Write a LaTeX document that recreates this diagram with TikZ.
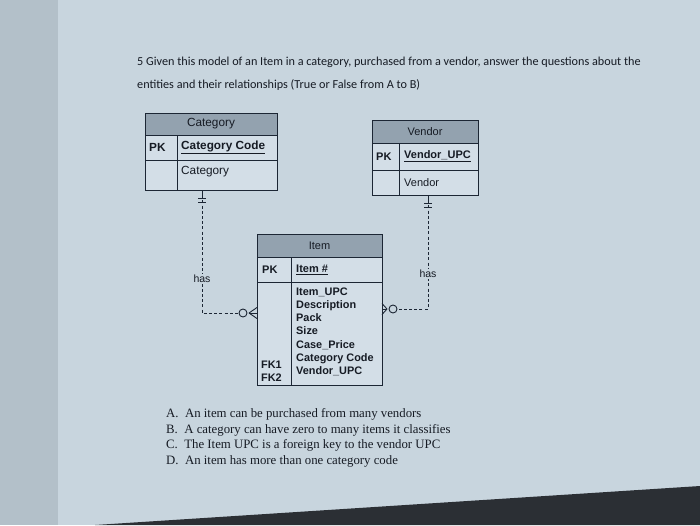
\documentclass[tikz,border=0pt]{standalone}
\usepackage{fontspec}
\setmainfont{Liberation Serif}
\setsansfont{Liberation Sans}
\newfontfamily\titlefont{Carlito}
\definecolor{bgc}{HTML}{C8D5DE}
\definecolor{edgec}{HTML}{B3C0C9}
\definecolor{bezel}{HTML}{2B2F34}
\definecolor{hdrc}{HTML}{93A2AF}
\definecolor{bodyc}{HTML}{D3DEE7}
\definecolor{linec}{HTML}{1C2634}
\definecolor{txtc}{HTML}{161B24}
\tikzset{
  cellbox/.style={draw=linec, line width=0.9pt, fill=bodyc, rectangle, anchor=north west,
    inner sep=0pt, outer sep=0pt},
  hdrbox/.style={cellbox, fill=hdrc},
  celltxt/.style={anchor=west, inner sep=0pt, text=txtc, font=\sffamily\fontsize{11}{12}\selectfont},
  celltxtb/.style={celltxt, font=\sffamily\bfseries\fontsize{11}{12}\selectfont},
  bigtxt/.style={anchor=west, inner sep=0pt, text=txtc, font=\sffamily\fontsize{11.8}{13}\selectfont},
  bigtxtb/.style={bigtxt, font=\sffamily\bfseries\fontsize{11.8}{13}\selectfont},
  hdrtxt/.style={inner sep=0pt, text=txtc, font=\sffamily\fontsize{11}{12}\selectfont},
  rel/.style={draw=linec, line width=0.9pt, dash pattern=on 3pt off 2.2pt},
  relsolid/.style={draw=linec, line width=0.9pt},
  haslbl/.style={fill=bgc, inner sep=1pt, text=txtc, font=\sffamily\fontsize{10.5}{12}\selectfont},
}
\begin{document}
\begin{tikzpicture}[x=1pt,y=-1pt]
\useasboundingbox (0,0) rectangle (700,525);
\fill[bgc] (0,0) rectangle (700,525);
\fill[edgec] (0,0) rectangle (58,525);
\fill[bezel] (95,525) -- (700,486) -- (700,525) -- cycle;

% Title
\node[anchor=west, inner sep=0pt, text=txtc,
  font=\titlefont\fontsize{12.2}{14}\selectfont] (title1) at (137,62)
  {5 Given this model of an Item in a category, purchased from a vendor, answer the questions about the};
\node[anchor=west, inner sep=0pt, text=txtc,
  font=\titlefont\fontsize{12.2}{14}\selectfont] (title2) at (137,85)
  {entities and their relationships (True or False from A to B)};

% Category
\node[hdrbox, minimum width=132pt, minimum height=22pt] (cath) at (145,113) {};
\node[hdrtxt, font=\sffamily\fontsize{11.8}{13}\selectfont] (cathT) at (cath.center) {Category};
\node[cellbox, minimum width=32pt, minimum height=25pt] (catpk) at (145,135) {};
\node[cellbox, minimum width=100pt, minimum height=25pt] (catcode) at (177,135) {};
\node[cellbox, minimum width=32pt, minimum height=30pt] (catl3) at (145,160) {};
\node[cellbox, minimum width=100pt, minimum height=30pt] (catr3) at (177,160) {};
\node[bigtxtb] (catpkT) at ([xshift=4pt]catpk.west) {PK};
\node[bigtxtb] (catcodeT) at ([xshift=4pt]catcode.west) {\underline{Category Code}};
\node[bigtxt] (catr3T) at ([xshift=4pt,yshift=3pt]catr3.west) {Category};

% Vendor
\node[hdrbox, minimum width=106pt, minimum height=23pt] (venh) at (372,120) {};
\node[hdrtxt] (venhT) at (venh.center) {Vendor};
\node[cellbox, minimum width=27pt, minimum height=27pt] (venpk) at (372,143) {};
\node[cellbox, minimum width=79pt, minimum height=27pt] (vencode) at (399,143) {};
\node[cellbox, minimum width=27pt, minimum height=25pt] (venl3) at (372,170) {};
\node[cellbox, minimum width=79pt, minimum height=25pt] (venr3) at (399,170) {};
\node[celltxtb] (venpkT) at ([xshift=4pt]venpk.west) {PK};
\node[celltxtb] (vencodeT) at ([xshift=5pt]vencode.west) {\underline{Vendor\_UPC}};
\node[celltxt] (venr3T) at ([xshift=5pt]venr3.west) {Vendor};

% Item
\node[hdrbox, minimum width=125pt, minimum height=23pt] (itmh) at (257,234) {};
\node[hdrtxt] (itmhT) at (itmh.center) {Item};
\node[cellbox, minimum width=34pt, minimum height=25pt] (itmpk) at (257,257) {};
\node[cellbox, minimum width=91pt, minimum height=25pt] (itmkey) at (291,257) {};
\node[cellbox, minimum width=34pt, minimum height=103pt] (itml) at (257,282) {};
\node[cellbox, minimum width=91pt, minimum height=103pt] (itmr) at (291,282) {};
\node[celltxtb] (itmpkT) at ([xshift=5pt]itmpk.west) {PK};
\node[celltxtb] (itmkeyT) at ([xshift=5pt]itmkey.west) {\underline{Item \#}};
\node[anchor=north west, inner sep=0pt, align=left, text=txtc,
  font=\sffamily\bfseries\fontsize{10.9}{13.2}\selectfont] (itmrT) at (296,287.5)
  {Item\_UPC\\Description\\Pack\\Size\\Case\_Price\\Category Code\\Vendor\_UPC};
\node[anchor=south west, inner sep=0pt, align=left, text=txtc,
  font=\sffamily\bfseries\fontsize{10.9}{13.2}\selectfont] (itmlT) at (261,382)
  {FK1\\FK2};

% Category -- Item relationship
\coordinate (cattop) at (202,190);
\coordinate (catj) at (202,313);
\coordinate (catcirc) at (243,313);
\coordinate (catapex) at (249,313);
\draw[rel] (cattop) -- (catj) -- ([xshift=-4pt]catcirc);
\draw[relsolid] (cattop) -- ++(0,6);
\draw[relsolid] (198,198) -- (206,198);
\draw[relsolid] (198,202.5) -- (206,202.5);
\draw[relsolid] (catcirc) circle (4pt);
\draw[relsolid] (catapex) -- (itml.west |- 0,307.5);
\draw[relsolid] (catapex) -- (itml.west |- catapex);
\draw[relsolid] (catapex) -- (itml.west |- 0,318.5);
\node[haslbl] (has1) at (202,279) {has};

% Vendor -- Item relationship
\coordinate (ventop) at (428,195);
\coordinate (venj) at (428,309);
\coordinate (vencirc) at (393,309);
\coordinate (venapex) at (387,309);
\draw[rel] (ventop) -- (venj) -- ([xshift=4pt]vencirc);
\draw[relsolid] (ventop) -- ++(0,6);
\draw[relsolid] (424,203) -- (432,203);
\draw[relsolid] (424,207.5) -- (432,207.5);
\draw[relsolid] (vencirc) circle (4pt);
\draw[relsolid] (venapex) -- (itmr.east |- 0,303.5);
\draw[relsolid] (venapex) -- (itmr.east |- venapex);
\draw[relsolid] (venapex) -- (itmr.east |- 0,314.5);
\node[haslbl] (has2) at (428,274) {has};

% Questions
\node[anchor=west, inner sep=0pt, text=txtc, font=\fontsize{12.8}{14}\selectfont] (qa) at (166,414)
  {A.\enspace An item can be purchased from many vendors};
\node[anchor=west, inner sep=0pt, text=txtc, font=\fontsize{12.8}{14}\selectfont] (qb) at (166,430)
  {B.\enspace A category can have zero to many items it classifies};
\node[anchor=west, inner sep=0pt, text=txtc, font=\fontsize{12.8}{14}\selectfont] (qc) at (166,445.5)
  {C.\enspace The Item UPC is a foreign key to the vendor UPC};
\node[anchor=west, inner sep=0pt, text=txtc, font=\fontsize{12.8}{14}\selectfont] (qd) at (166,461)
  {D.\enspace An item has more than one category code};
\end{tikzpicture}
\end{document}
